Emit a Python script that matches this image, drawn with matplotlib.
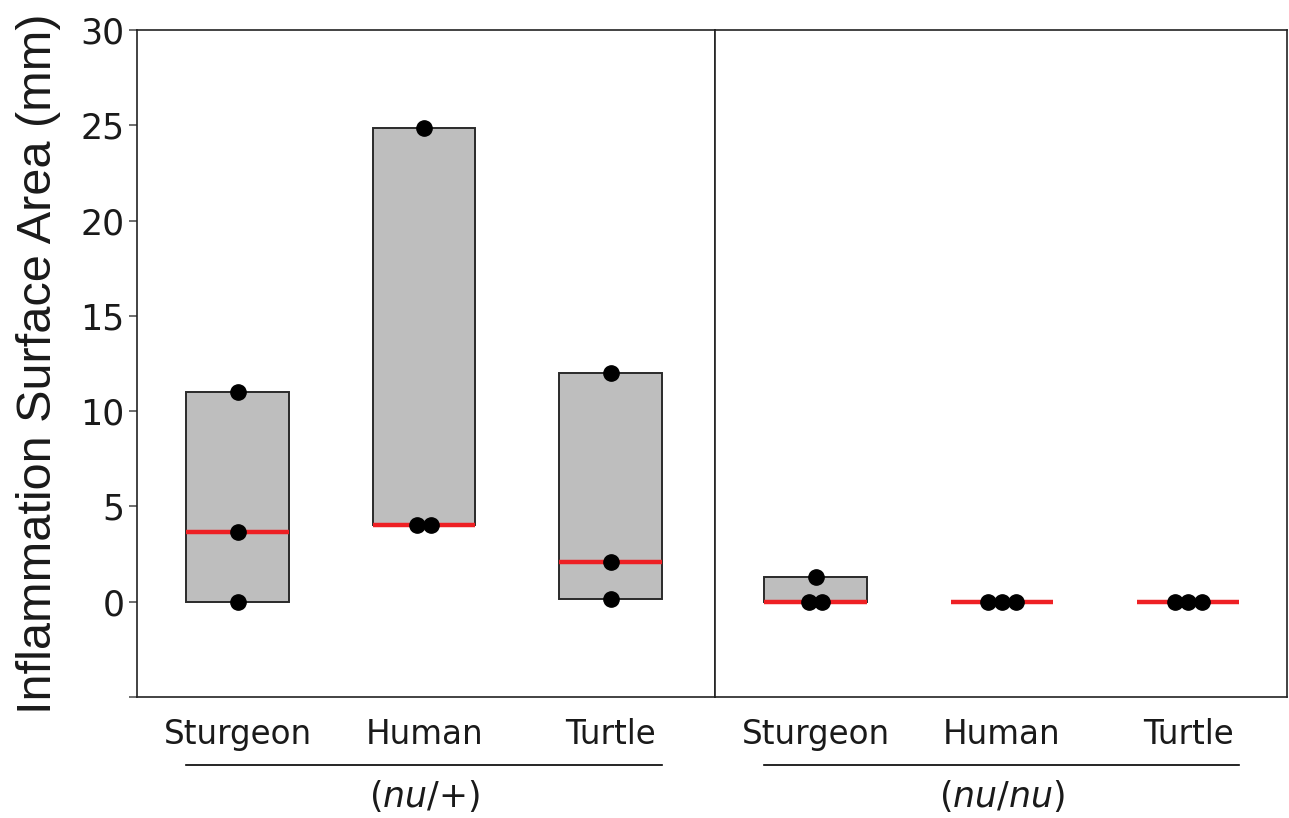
import matplotlib
matplotlib.use("Agg")
import matplotlib.pyplot as plt
import numpy as np

# ── data ─────────────────────────────────────────────────────────────────────
species = ["Sturgeon", "Human", "Turtle"]
groups = ["($\\mathit{nu}$/+)", "($\\mathit{nu/nu}$)"]
het_values = [[11.0, 3.65, 0.0], [24.85, 4.0, 4.0], [12.0, 2.1, 0.15]]
nude_values = [[1.28, 0.0, 0.0], [0.0, 0.0, 0.0], [0.0, 0.0, 0.0]]
yticks = [-5, 0, 5, 10, 15, 20, 25, 30]
yticklabels = ["", "0", "5", "10", "15", "20", "25", "30"]

BOX_W = 0.55
DOT_STEP = 0.073
plt.rcParams["mathtext.fontset"] = "dejavusans"

fig = plt.figure(figsize=(12.89, 8.18), dpi=100)
fig.patch.set_facecolor("white")
ax1 = fig.add_axes([137 / 1289, 121 / 818, 578 / 1289, 667 / 818])
ax2 = fig.add_axes([715 / 1289, 121 / 818, 572 / 1289, 667 / 818])


def panel(ax, data, group_label, xmax):
    xs = np.arange(1, len(species) + 1)
    for x, vals in zip(xs, data):
        vals = np.array(vals)
        lo, hi, med = vals.min(), vals.max(), np.median(vals)
        ax.add_patch(plt.Rectangle((x - BOX_W / 2, lo), BOX_W, hi - lo,
                                   facecolor="#bebebe", edgecolor="#2a2a2a",
                                   lw=1.4, zorder=2))
        ax.plot([x - BOX_W / 2, x + BOX_W / 2], [med, med], color="#ee2024",
                lw=3.2, solid_capstyle="butt", zorder=3)
        # spread duplicate values side by side
        for v in np.unique(vals):
            n = int((vals == v).sum())
            offs = (np.arange(n) - (n - 1) / 2) * DOT_STEP
            ax.plot(x + offs, [v] * n, "o", color="black", ms=11,
                    zorder=4, clip_on=False)
    ax.set_xlim(0.46, xmax)
    ax.set_ylim(-5, 30)
    ax.set_xticks(xs)
    ax.set_xticklabels(species, fontsize=23.5, color="#1a1a1a")
    ax.tick_params(axis="x", length=0, pad=15)
    for s in ax.spines.values():
        s.set_linewidth(1.2)
        s.set_color("#222222")
    # group bracket line and label
    ax.plot([xs[0] - BOX_W / 2, xs[-1] + BOX_W / 2], [-0.102, -0.102],
            transform=ax.get_xaxis_transform(), color="black", lw=1.2,
            clip_on=False)
    ax.text(xs[1], -0.148, group_label, transform=ax.get_xaxis_transform(),
            ha="center", va="center", fontsize=25, color="#1a1a1a")


panel(ax1, het_values, groups[0], 3.56)
panel(ax2, nude_values, groups[1], 3.53)

ax1.set_yticks(yticks)
ax1.set_yticklabels(yticklabels, fontsize=25, color="#1a1a1a")
ax1.tick_params(axis="y", direction="out", length=6, width=1.2, pad=3,
                color="#555555")
ax1.set_ylabel("Inflammation Surface Area (mm)", fontsize=35,
               family=["Liberation Sans", "DejaVu Sans"],
               color="#1a1a1a", labelpad=14)
ax2.set_yticks([])

plt.savefig("out.png", dpi=100, facecolor="white")
